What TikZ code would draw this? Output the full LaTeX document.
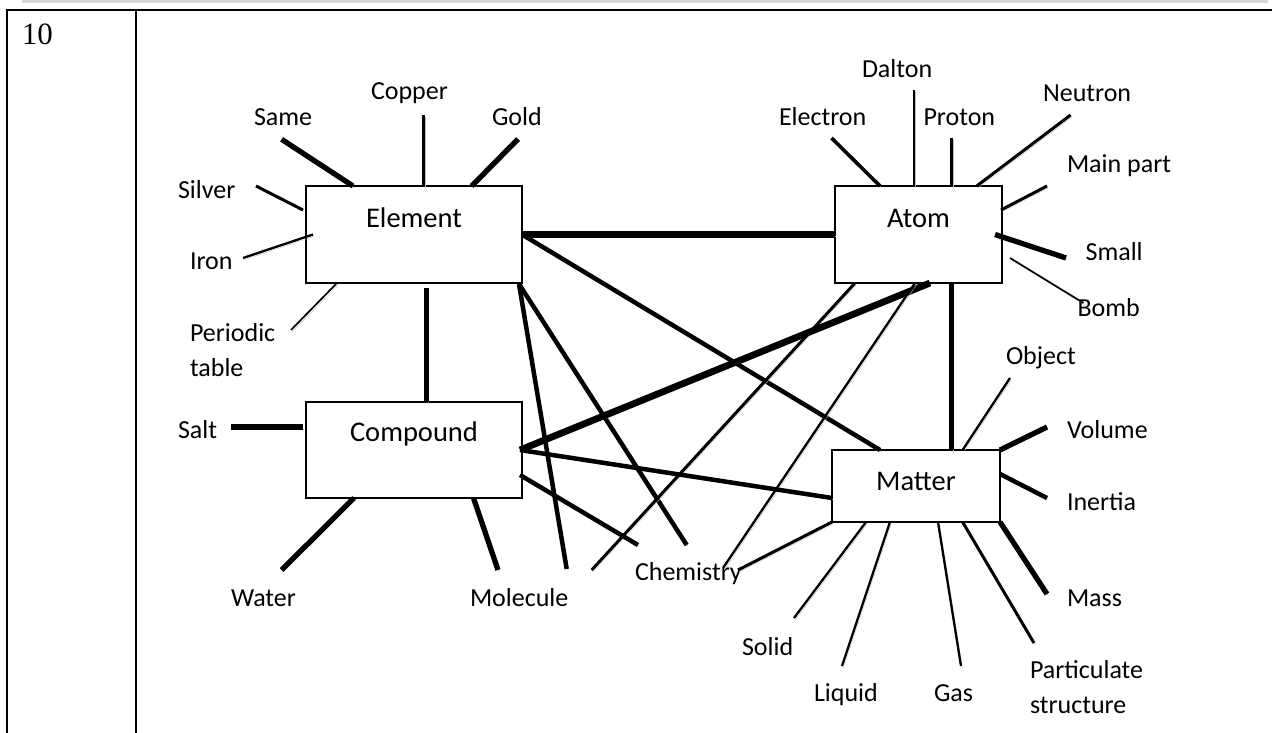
\documentclass[tikz,border=0pt]{standalone}
\usepackage{fontspec}
\setmainfont{Carlito}
\newfontfamily\numfont{Liberation Serif}
\begin{document}
\begin{tikzpicture}[x=1pt,y=-1pt,
  lbl/.style={font=\fontsize{26}{31}\selectfont, inner sep=0pt, outer sep=0pt, anchor=base west},
  boxlbl/.style={font=\fontsize{28.5}{34}\selectfont, inner sep=0pt, outer sep=0pt, anchor=base},
  box/.style={draw, line width=1.3pt, fill=white, inner sep=0pt, outer sep=0pt},
  sh/.style={preaction={draw=black!25, transform canvas={xshift=1.4pt,yshift=-1.8pt}}},
  wa/.style={sh, line width=1.7pt},
  wb/.style={sh, line width=2.3pt},
  wc/.style={sh, line width=3pt},
  wd/.style={sh, line width=3.6pt},
  we/.style={sh, line width=4.5pt},
  wf/.style={sh, line width=5.3pt},
  wg/.style={sh, line width=6.8pt},
  frame/.style={line width=2.2pt}
]
\useasboundingbox (0,0) rectangle (1272,733);
% table frame
\fill[black!16] (21.7,0) rectangle (1268,3.3);
\draw[frame] (5.8,10) coordinate (tl) -- (1272,10) coordinate (tr);
\coordinate (bl) at (6.7,733);
\coordinate (dt) at (136,10);
\coordinate (db) at (136,733);
\draw[line width=1.9pt] (6.7,9) coordinate (lt) -- (bl);
\draw[frame] (dt) -- (db);
\node[font=\numfont\fontsize{31}{36}\selectfont, inner sep=0pt, anchor=base west] (num) at (21.7,45) {10};

% boxes
\node[box, minimum width=216pt, minimum height=97pt] (Element) at (414,234.5) {};
\node[box, minimum width=167pt, minimum height=97pt] (Atom) at (918.5,234.5) {};
\node[box, minimum width=216pt, minimum height=96pt] (Compound) at (414,450) {};
\node[box, minimum width=168pt, minimum height=72pt] (Matter) at (916,486) {};
\node[boxlbl] (ElementLabel) at (414,227) {Element};
\node[boxlbl] (AtomLabel) at (918.5,227) {Atom};
\node[boxlbl] (CompoundLabel) at (414,441) {Compound};
\node[boxlbl] (MatterLabel) at (916,490) {Matter};

% labels
\node[lbl] (Same) at (254,126) {Same};
\node[lbl] (Copper) at (371,100) {Copper};
\node[lbl] (Gold) at (492,125.5) {Gold};
\node[lbl] (Silver) at (178,198) {Silver};
\node[lbl] (Iron) at (190,269) {Iron};
\node[lbl] (Periodic) at (190,341.5) {Periodic};
\node[lbl] (table) at (190,376.5) {table};
\node[lbl] (Salt) at (178,438) {Salt};
\node[lbl] (Water) at (231,606) {Water};
\node[lbl] (Molecule) at (470,606) {Molecule};
\node[lbl] (Chemistry) at (635,580) {Chemistry};
\node[lbl] (Dalton) at (862,78) {Dalton};
\node[lbl] (Electron) at (779,126) {Electron};
\node[lbl] (Proton) at (923.5,126) {Proton};
\node[lbl] (Neutron) at (1043,101.5) {Neutron};
\node[lbl] (Mainpart) at (1067,172.5) {Main part};
\node[lbl] (Small) at (1085.6,260) {Small};
\node[lbl] (Bomb) at (1077.5,316.5) {Bomb};
\node[lbl] (Object) at (1006,364) {Object};
\node[lbl] (Volume) at (1067,438) {Volume};
\node[lbl] (Inertia) at (1067,510) {Inertia};
\node[lbl] (Mass) at (1067,606.5) {Mass};
\node[lbl] (Particulate) at (1030,678) {Particulate};
\node[lbl] (structure) at (1030,713) {structure};
\node[lbl] (Solid) at (742,655) {Solid};
\node[lbl] (Liquid) at (814,701) {Liquid};
\node[lbl] (Gas) at (934,701.5) {Gas};

% free ends of the stubs
\coordinate (Same-e) at (281.6,139.3);
\coordinate (Copper-e) at (423.7,115);
\coordinate (Gold-e) at (518,139);
\coordinate (Silver-e) at (256,186);
\coordinate (Iron-e) at (243,258);
\coordinate (Periodic-e) at (291,330);
\coordinate (Salt-e) at (231.4,427);
\coordinate (Water-e) at (281.6,570);
\coordinate (Molecule-e) at (498,570);
\coordinate (Dalton-e) at (914,90);
\coordinate (Electron-e) at (831.5,138);
\coordinate (Proton-e) at (951.7,138);
\coordinate (Neutron-e) at (1070.6,115);
\coordinate (Mainpart-e) at (1047,186);
\coordinate (Small-e) at (1066,258);
\coordinate (Bomb-e) at (1083.5,303);
\coordinate (Object-e) at (1010,378);
\coordinate (Volume-e) at (1047,427);
\coordinate (Inertia-e) at (1047,498);
\coordinate (Mass-e) at (1047,594);
\coordinate (Particulate-e) at (1034,643);
\coordinate (Gas-e) at (961,666);
\coordinate (Liquid-e) at (842,666);
\coordinate (Solid-e) at (794,618);
% free ends of the long lines
\coordinate (m1) at (566.7,569);
\coordinate (c1) at (686.7,545);
\coordinate (m2) at (591.7,570);
\coordinate (c2) at (723,568);
\coordinate (c3) at (638,545);
\coordinate (c4) at (738,570);

% Element stubs
\draw[wf] (Same-e) -- ([xshift=-61pt]Element.north);
\draw[wc] (Copper-e) -- ([xshift=9.7pt]Element.north);
\draw[wf] (Gold-e) -- ([xshift=57.7pt]Element.north);
\draw[wc] (Silver-e) -- ([xshift=-3pt,yshift=24.5pt]Element.west);
\draw[wb] (Iron-e) -- ([xshift=7pt]Element.west);
\draw[wa] (Periodic-e) -- ([xshift=-77pt]Element.south);
% Compound stubs
\draw[wf] (Salt-e) -- ([xshift=-3pt,yshift=23pt]Compound.west);
\draw[wf] (Water-e) -- ([xshift=-60pt]Compound.south);
\draw[wf] (Molecule-e) -- ([xshift=59.5pt]Compound.south);
% Atom stubs
\draw[wb] (Dalton-e) -- ([xshift=-4.5pt]Atom.north);
\draw[wd] (Electron-e) -- ([xshift=-38.5pt]Atom.north);
\draw[wc] (Proton-e) -- ([xshift=33.2pt]Atom.north);
\draw[wc] (Neutron-e) -- ([xshift=58.2pt]Atom.north);
\draw[wc] (Mainpart-e) -- ([xshift=-1pt,yshift=24.5pt]Atom.east);
\draw[wf] (Small-e) -- ([xshift=-7pt]Atom.east);
\draw[wa] (Bomb-e) -- ([xshift=8pt,yshift=-23.5pt]Atom.east);
% Matter stubs
\draw[wb] (Object-e) -- ([xshift=46.6pt]Matter.north);
\draw[wf] (Volume-e) -- (Matter.north east);
\draw[we] (Inertia-e) -- ([yshift=12pt]Matter.east);
\draw[wf] (Mass-e) -- (Matter.south east);
\draw[wc] (Particulate-e) -- ([xshift=46.6pt]Matter.south);
\draw[wb] (Gas-e) -- ([xshift=22pt]Matter.south);
\draw[wb] (Liquid-e) -- ([xshift=-26pt]Matter.south);
\draw[wb] (Solid-e) -- ([xshift=-50pt]Matter.south);

% links between the concepts
\draw[wg] (Element.east) -- (Atom.west);
\draw[we] (Element.east) -- ([xshift=-36pt]Matter.north);
\draw[we] ([xshift=-3pt,yshift=-1pt]Element.south east) -- (m1);
\draw[we] ([xshift=-3pt,yshift=-1pt]Element.south east) -- (c1);
\draw[wf] ([xshift=12.5pt,yshift=-5pt]Element.south) -- ([xshift=12.5pt]Compound.north);
\draw[wc] ([xshift=-63.5pt]Atom.south) -- (m2);
\draw[wg] ([xshift=11.5pt]Atom.south) -- ([xshift=-2pt]Compound.east);
\draw[wb] ([xshift=-3.5pt]Atom.south) -- (c2);
\draw[wf] ([xshift=33.2pt]Atom.south) -- ([xshift=35.7pt]Matter.north);
\draw[we] ([xshift=-2pt]Compound.east) -- ([yshift=-12pt]Matter.west);
\draw[we] ([xshift=-2pt,yshift=-25pt]Compound.east) -- (c3);
\draw[wc] (Matter.south west) -- (c4);
\end{tikzpicture}
\end{document}
